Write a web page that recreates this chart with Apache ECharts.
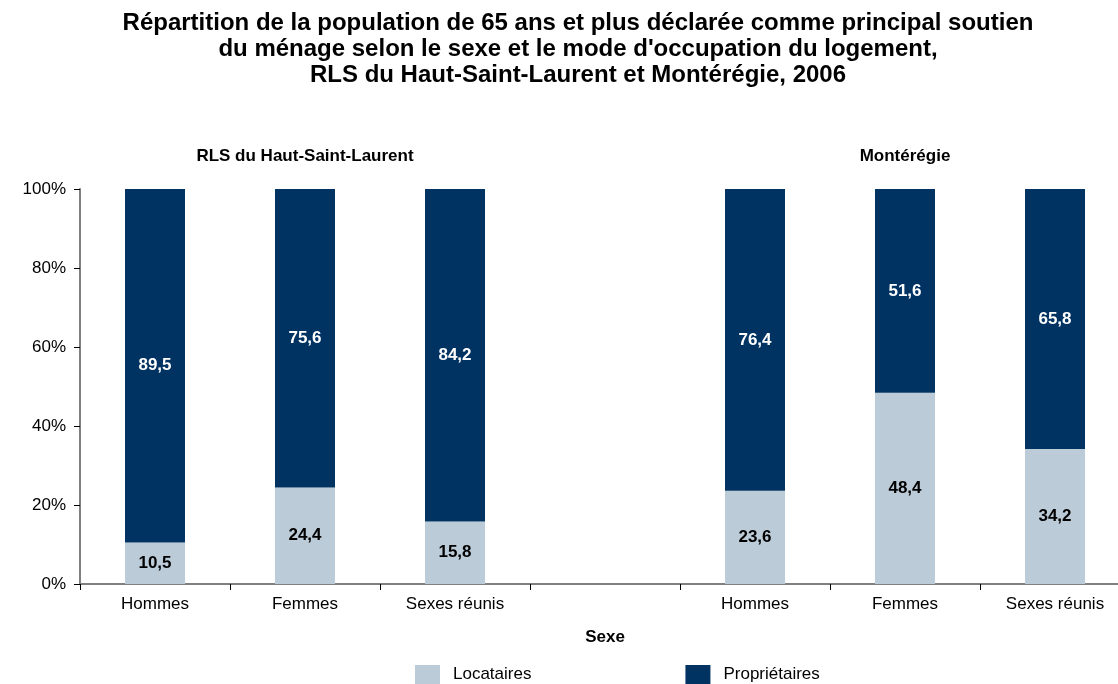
<!DOCTYPE html>
<html>
<head>
<meta charset="utf-8">
<script src="https://cdn.jsdelivr.net/npm/echarts@6/dist/echarts.min.js"></script>
<style>
  html, body { margin: 0; padding: 0; background: #fff; }
  #chart { width: 1118px; height: 684px; }
</style>
</head>
<body>
<div id="chart"></div>
<script>
var categories = ['Hommes', 'Femmes', 'Sexes réunis', '', 'Hommes', 'Femmes', 'Sexes réunis'];
var locataires = [10.5, 24.4, 15.8, null, 23.6, 48.4, 34.2];
var proprietaires = [89.5, 75.6, 84.2, null, 76.4, 51.6, 65.8];
var groupNames = ['RLS du Haut-Saint-Laurent', 'Montérégie'];

var font = 'Liberation Sans, Arial, sans-serif';

function fmt(p) {
  return p.value == null ? '' : p.value.toFixed(1).replace('.', ',');
}

var chart = echarts.init(document.getElementById('chart'));
var option = {
  animation: false,
  title: {
    text: 'Répartition de la population de 65 ans et plus déclarée comme principal soutien\ndu ménage selon le sexe et le mode d\'occupation du logement,\nRLS du Haut-Saint-Laurent et Montérégie, 2006',
    left: 573,
    textAlign: 'center',
    top: 5,
    textStyle: { fontFamily: font, fontSize: 24, fontWeight: 'bold', color: '#000', lineHeight: 26 }
  },
  graphic: [
    { type: 'text', x: 305, y: 156, style: { text: groupNames[0], font: 'bold 17px ' + font, fill: '#000', align: 'center', verticalAlign: 'middle' } },
    { type: 'text', x: 905, y: 156, style: { text: groupNames[1], font: 'bold 17px ' + font, fill: '#000', align: 'center', verticalAlign: 'middle' } }
  ],
  legend: {
    left: 415,
    top: 665,
    padding: 0,
    itemWidth: 25,
    itemHeight: 19,
    itemGap: 154,
    icon: 'rect',
    textStyle: { fontFamily: font, fontSize: 17, color: '#000', padding: [0, 0, 0, 8] },
    data: ['Locataires', 'Propriétaires']
  },
  grid: { left: 80, top: 189, width: 1050, bottom: 100, outerBoundsMode: 'none', containLabel: false },
  xAxis: {
    type: 'category',
    data: categories,
    name: 'Sexe',
    nameLocation: 'middle',
    nameGap: 45,
    nameTextStyle: { fontFamily: font, fontSize: 17, fontWeight: 'bold', color: '#000' },
    axisLine: { lineStyle: { color: '#808080', width: 2 } },
    axisTick: { show: true, length: 6, lineStyle: { color: '#000' } },
    axisLabel: { fontFamily: font, fontSize: 17, color: '#000', margin: 12 }
  },
  yAxis: {
    type: 'value',
    min: 0,
    max: 100,
    interval: 20,
    axisLine: { show: true, lineStyle: { color: '#808080', width: 2 } },
    axisTick: { show: true, length: 6, lineStyle: { color: '#000' } },
    splitLine: { show: false },
    axisLabel: { fontFamily: font, fontSize: 17, color: '#000', margin: 14, formatter: '{value}%' }
  },
  series: [
    {
      name: 'Locataires',
      type: 'bar',
      stack: 'total',
      barWidth: 60,
      data: locataires,
      itemStyle: { color: '#bccbd8' },
      label: { show: true, position: 'inside', formatter: fmt, fontFamily: font, fontSize: 17, fontWeight: 'bold', color: '#000' }
    },
    {
      name: 'Propriétaires',
      type: 'bar',
      stack: 'total',
      barWidth: 60,
      data: proprietaires,
      itemStyle: { color: '#003262' },
      label: { show: true, position: 'inside', formatter: fmt, fontFamily: font, fontSize: 17, fontWeight: 'bold', color: '#fff' }
    }
  ]
};
chart.setOption(option);
</script>
</body>
</html>
